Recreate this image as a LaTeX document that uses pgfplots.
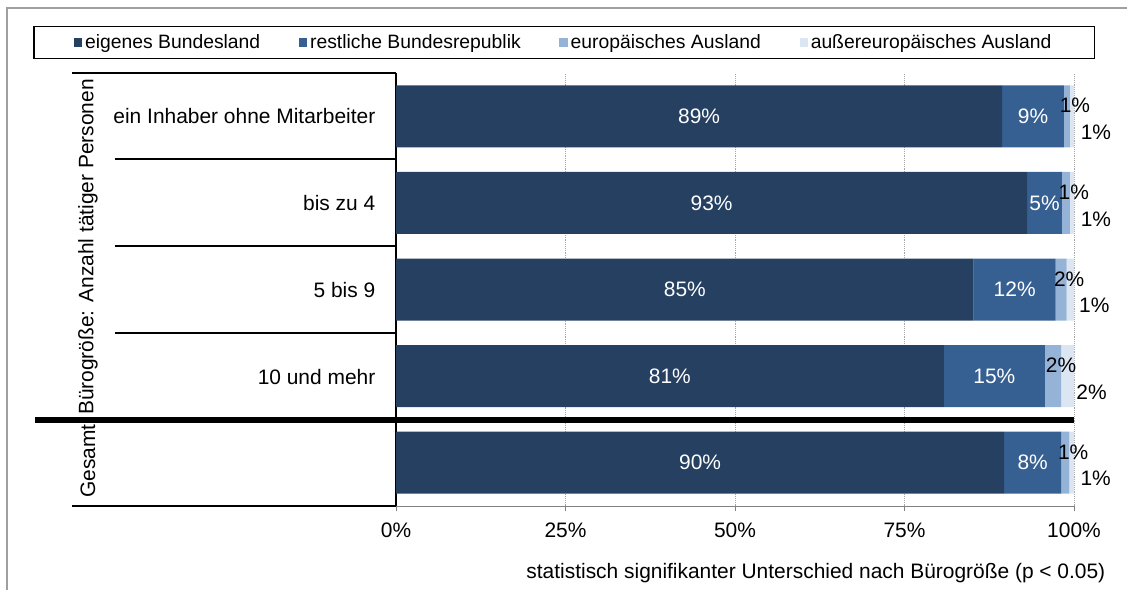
\documentclass[border=0pt]{standalone}
\usepackage{fontspec}
\setmainfont{Liberation Sans}
\usepackage{pgfplots}
\pgfplotsset{compat=1.18}

\definecolor{c1}{HTML}{254061}
\definecolor{c2}{HTML}{376092}
\definecolor{c3}{HTML}{95B3D7}
\definecolor{c4}{HTML}{DCE6F2}

\begin{document}
\begin{tikzpicture}[font=\fontsize{15.7}{18}\selectfont]
% pixel frame: 1 px = 0.75pt, y downwards
\begin{scope}[x=0.75pt, y=-0.75pt]
\path[use as bounding box] (0,0) rectangle (1127,590);
\draw[gray!75, line width=1.4pt] (7,590) -- (7,8) -- (1127,8);
\draw[black, line width=1.1pt] (72,73) -- (396,73);
\draw[black, line width=1.1pt] (115,159) -- (396,159);
\draw[black, line width=1.1pt] (115,246) -- (396,246);
\draw[black, line width=1.1pt] (115,333) -- (396,333);
\draw[black, line width=1.1pt] (72,506) -- (396,506);
\node[anchor=east] at (380,116) {ein Inhaber ohne Mitarbeiter};
\node[anchor=east] at (380,203) {bis zu 4};
\node[anchor=east] at (380,290) {5 bis 9};
\node[anchor=east] at (380,377) {10 und mehr};
\node[rotate=90] at (88,247) {Bürogröße: Anzahl tätiger Personen};
\node[rotate=90] at (88,461) {Gesamt};
\node[anchor=east] at (1110,573) {statistisch signifikanter Unterschied nach Bürogröße (p < 0.05)};
\end{scope}

\begin{axis}[
  at={(297pt,-379.5pt)}, anchor=south west,
  scale only axis, width=508.5pt, height=324.75pt,
  xbar stacked, bar width=46.5pt,
  xmin=0, xmax=100, ymin=-0.5, ymax=4.5,
  axis lines*=left, axis line style={-},
  x axis line style={gray, thin},
  y axis line style={black, line width=1.1pt},
  ytick=\empty, xtick={0,25,50,75,100},
  tick align=outside, major tick length=4pt,
  xtick style={gray, thin},
  xticklabel={\pgfmathprintnumber[assume math mode=true]{\tick}\%},
  xticklabel style={yshift=-5pt},
  xmajorgrids, grid style={gray!70, densely dotted, thin},
  point meta=rawx,
  nodes near coords={\pgfmathprintnumber[fixed, precision=0, assume math mode=true]{\pgfplotspointmeta}\%},
  legend columns=4,
  legend cell align=left,
  legend style={at={(0.2478,1.0704)}, anchor=center, draw=black, line width=1pt,
    font=\fontsize{14.5}{17}\selectfont,
    inner xsep=30pt, inner ysep=4pt,
    /tikz/every even column/.append style={column sep=27pt}},
  legend image code/.code={\fill[#1] (0pt,-3.2pt) rectangle (6.4pt,3.2pt);},
]
\addplot[fill=c1, draw=none, every node near coord/.append style={white}]
  coordinates {(89.4,4) (93.1,3) (85.2,2) (80.8,1) (89.7,0)};
\addplot[fill=c2, draw=none, every node near coord/.append style={white}]
  coordinates {(9.1,4) (5.1,3) (12.1,2) (14.9,1) (8.4,0)};
\addplot[fill=c3, draw=none, every node near coord/.append style={black, xshift=6pt, yshift=8pt}]
  coordinates {(0.9,4) (1.2,3) (1.6,2) (2.4,1) (1.2,0)};
\addplot[fill=c4, draw=none, every node near coord/.append style={black, xshift=18pt, yshift=-12pt}]
  coordinates {(0.6,4) (0.6,3) (1.1,2) (1.9,1) (0.7,0)};
\legend{eigenes Bundesland, restliche Bundesrepublik, europäisches Ausland, außereuropäisches Ausland}
\end{axis}

\begin{scope}[x=0.75pt, y=-0.75pt]
\draw[black, line width=3.8pt] (35,420) -- (1074,420);
\end{scope}
\end{tikzpicture}
\end{document}
